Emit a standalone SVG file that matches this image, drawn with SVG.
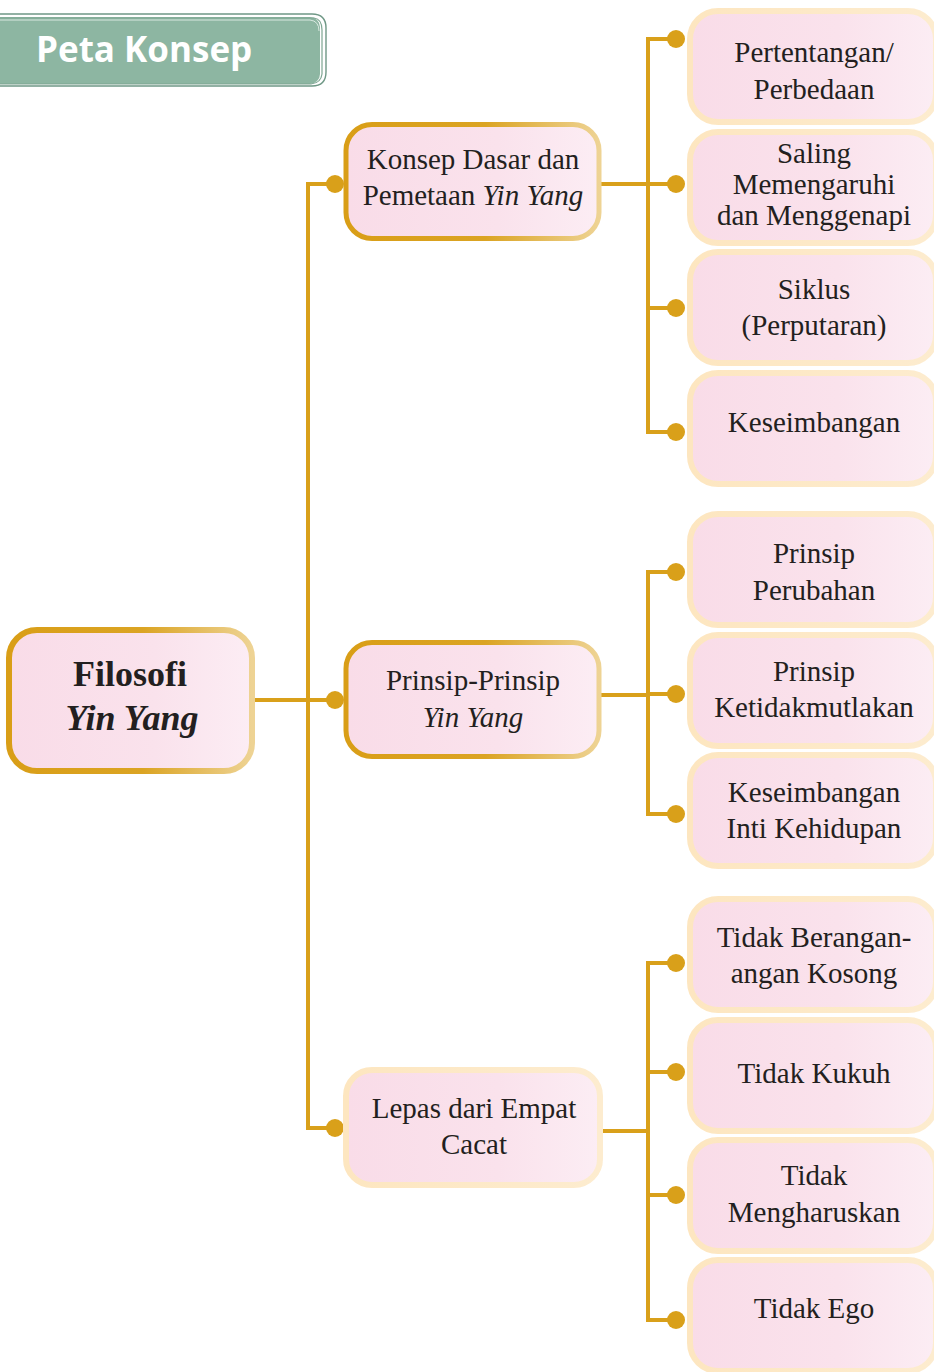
<svg xmlns="http://www.w3.org/2000/svg" width="934" height="1372" viewBox="0 0 934 1372">
  <defs>
    <linearGradient id="fillPink" x1="0" y1="0" x2="1" y2="0">
      <stop offset="0" stop-color="#f9dce8"/>
      <stop offset="0.6" stop-color="#fae2ec"/>
      <stop offset="1" stop-color="#fcedf4"/>
    </linearGradient>
    <linearGradient id="strokeGold" x1="0" y1="0" x2="1" y2="0">
      <stop offset="0" stop-color="#d99e17"/>
      <stop offset="0.55" stop-color="#dba423"/>
      <stop offset="1" stop-color="#eed394"/>
    </linearGradient>
    <linearGradient id="strokeCream" x1="0" y1="0" x2="1" y2="0">
      <stop offset="0" stop-color="#fde6c0"/>
      <stop offset="1" stop-color="#fdeccf"/>
    </linearGradient>
  </defs>
  <style>
    .root { fill: url(#fillPink); stroke: url(#strokeGold); stroke-width: 6; }
    .mid { fill: url(#fillPink); stroke: url(#strokeGold); stroke-width: 5; }
    .soft { fill: url(#fillPink); stroke: url(#strokeCream); stroke-width: 6; }
    .lbl { font-family: "Liberation Serif", "Times New Roman", serif; font-size: 29px; fill: #231f20; text-anchor: middle; }
    .rootLbl { font-family: "Liberation Serif", "Times New Roman", serif; font-size: 36px; font-weight: bold; fill: #231f20; text-anchor: middle; }
    .it { font-style: italic; }
    .wire { fill: none; stroke: #d9a01a; stroke-width: 4; }
    .dot { fill: #d9a01a; }
  </style>

  <!-- title tab -->
  <g id="title">
    <rect x="-20" y="17" width="340" height="67" rx="10" fill="#8db6a2"/>
    <path d="M-20 14 H312 Q326 14 326 28 V72 Q326 86 312 86 H-20" fill="none" stroke="#6f9886" stroke-width="1.4"/>
    <path d="M-20 18 H314 Q322 19 322 30 V74 Q321 83 311 84 H-20" fill="none" stroke="#7ea692" stroke-width="1.2"/>
    <path d="M-20 20 H310 Q319 21 319 31" fill="none" stroke="#d9e8e0" stroke-width="1"/>
    <text x="36" y="62" font-family="'Open Sans', 'Noto Sans', sans-serif" font-size="35" font-weight="bold" fill="#ffffff">Peta Konsep</text>
  </g>

  <!-- connectors -->
  <g id="connectors">
    <path class="wire" d="M252 700 H335"/>
    <path class="wire" d="M335 184 H308 V1128 H335"/>
    <path class="wire" d="M600 184 H648"/>
    <path class="wire" d="M676 39 H648 V432 H676 M648 184 H676 M648 308 H676"/>
    <path class="wire" d="M600 695 H648"/>
    <path class="wire" d="M676 572 H648 V814 H676 M648 694 H676"/>
    <path class="wire" d="M602 1131 H648"/>
    <path class="wire" d="M676 963 H648 V1320 H676 M648 1072 H676 M648 1195 H676"/>
    <circle class="dot" cx="335" cy="184" r="9"/>
    <circle class="dot" cx="335" cy="700" r="9"/>
    <circle class="dot" cx="335" cy="1128" r="9"/>
    <circle class="dot" cx="676" cy="39" r="9"/>
    <circle class="dot" cx="676" cy="184" r="9"/>
    <circle class="dot" cx="676" cy="308" r="9"/>
    <circle class="dot" cx="676" cy="432" r="9"/>
    <circle class="dot" cx="676" cy="572" r="9"/>
    <circle class="dot" cx="676" cy="694" r="9"/>
    <circle class="dot" cx="676" cy="814" r="9"/>
    <circle class="dot" cx="676" cy="963" r="9"/>
    <circle class="dot" cx="676" cy="1072" r="9"/>
    <circle class="dot" cx="676" cy="1195" r="9"/>
    <circle class="dot" cx="676" cy="1320" r="9"/>
  </g>

  <!-- root -->
  <g id="filosofi">
    <rect class="root" x="9" y="630" width="243" height="141" rx="28"/>
    <text class="rootLbl" x="130" y="686">Filosofi</text>
    <text class="rootLbl it" x="132" y="730">Yin Yang</text>
  </g>

  <!-- branches -->
  <g id="konsep-dasar">
    <rect class="mid" x="346" y="124.5" width="253" height="114" rx="26"/>
    <text class="lbl" x="473" y="169">Konsep Dasar dan</text>
    <text class="lbl" x="473" y="205">Pemetaan <tspan class="it">Yin Yang</tspan></text>
  </g>
  <g id="prinsip-prinsip">
    <rect class="mid" x="346" y="642.5" width="253" height="114" rx="26"/>
    <text class="lbl" x="473" y="690">Prinsip-Prinsip</text>
    <text class="lbl it" x="473" y="727">Yin Yang</text>
  </g>
  <g id="empat-cacat">
    <rect class="soft" x="346" y="1070" width="254" height="115" rx="26"/>
    <text class="lbl" x="474" y="1118">Lepas dari Empat</text>
    <text class="lbl" x="474" y="1154">Cacat</text>
  </g>

  <!-- leaves -->
  <g id="pertentangan">
    <rect class="soft" x="690" y="11" width="246" height="111" rx="28"/>
    <text class="lbl" x="814" y="62">Pertentangan/</text>
    <text class="lbl" x="814" y="99">Perbedaan</text>
  </g>
  <g id="saling-memengaruhi">
    <rect class="soft" x="690" y="132" width="246" height="111" rx="28"/>
    <text class="lbl" x="814" y="163">Saling</text>
    <text class="lbl" x="814" y="194">Memengaruhi</text>
    <text class="lbl" x="814" y="225">dan Menggenapi</text>
  </g>
  <g id="siklus">
    <rect class="soft" x="690" y="252" width="246" height="111" rx="28"/>
    <text class="lbl" x="814" y="299">Siklus</text>
    <text class="lbl" x="814" y="335">(Perputaran)</text>
  </g>
  <g id="keseimbangan">
    <rect class="soft" x="690" y="373" width="246" height="111" rx="28"/>
    <text class="lbl" x="814" y="432">Keseimbangan</text>
  </g>
  <g id="prinsip-perubahan">
    <rect class="soft" x="690" y="514" width="246" height="111" rx="28"/>
    <text class="lbl" x="814" y="563">Prinsip</text>
    <text class="lbl" x="814" y="600">Perubahan</text>
  </g>
  <g id="prinsip-ketidakmutlakan">
    <rect class="soft" x="690" y="635" width="246" height="111" rx="28"/>
    <text class="lbl" x="814" y="681">Prinsip</text>
    <text class="lbl" x="814" y="717">Ketidakmutlakan</text>
  </g>
  <g id="keseimbangan-inti">
    <rect class="soft" x="690" y="755" width="246" height="111" rx="28"/>
    <text class="lbl" x="814" y="802">Keseimbangan</text>
    <text class="lbl" x="814" y="838">Inti Kehidupan</text>
  </g>
  <g id="tidak-berangan">
    <rect class="soft" x="690" y="899" width="246" height="111" rx="28"/>
    <text class="lbl" x="814" y="947">Tidak Berangan-</text>
    <text class="lbl" x="814" y="983">angan Kosong</text>
  </g>
  <g id="tidak-kukuh">
    <rect class="soft" x="690" y="1020" width="246" height="111" rx="28"/>
    <text class="lbl" x="814" y="1083">Tidak Kukuh</text>
  </g>
  <g id="tidak-mengharuskan">
    <rect class="soft" x="690" y="1140" width="246" height="111" rx="28"/>
    <text class="lbl" x="814" y="1185">Tidak</text>
    <text class="lbl" x="814" y="1222">Mengharuskan</text>
  </g>
  <g id="tidak-ego">
    <rect class="soft" x="690" y="1260" width="246" height="111" rx="28"/>
    <text class="lbl" x="814" y="1318">Tidak Ego</text>
  </g>
</svg>
